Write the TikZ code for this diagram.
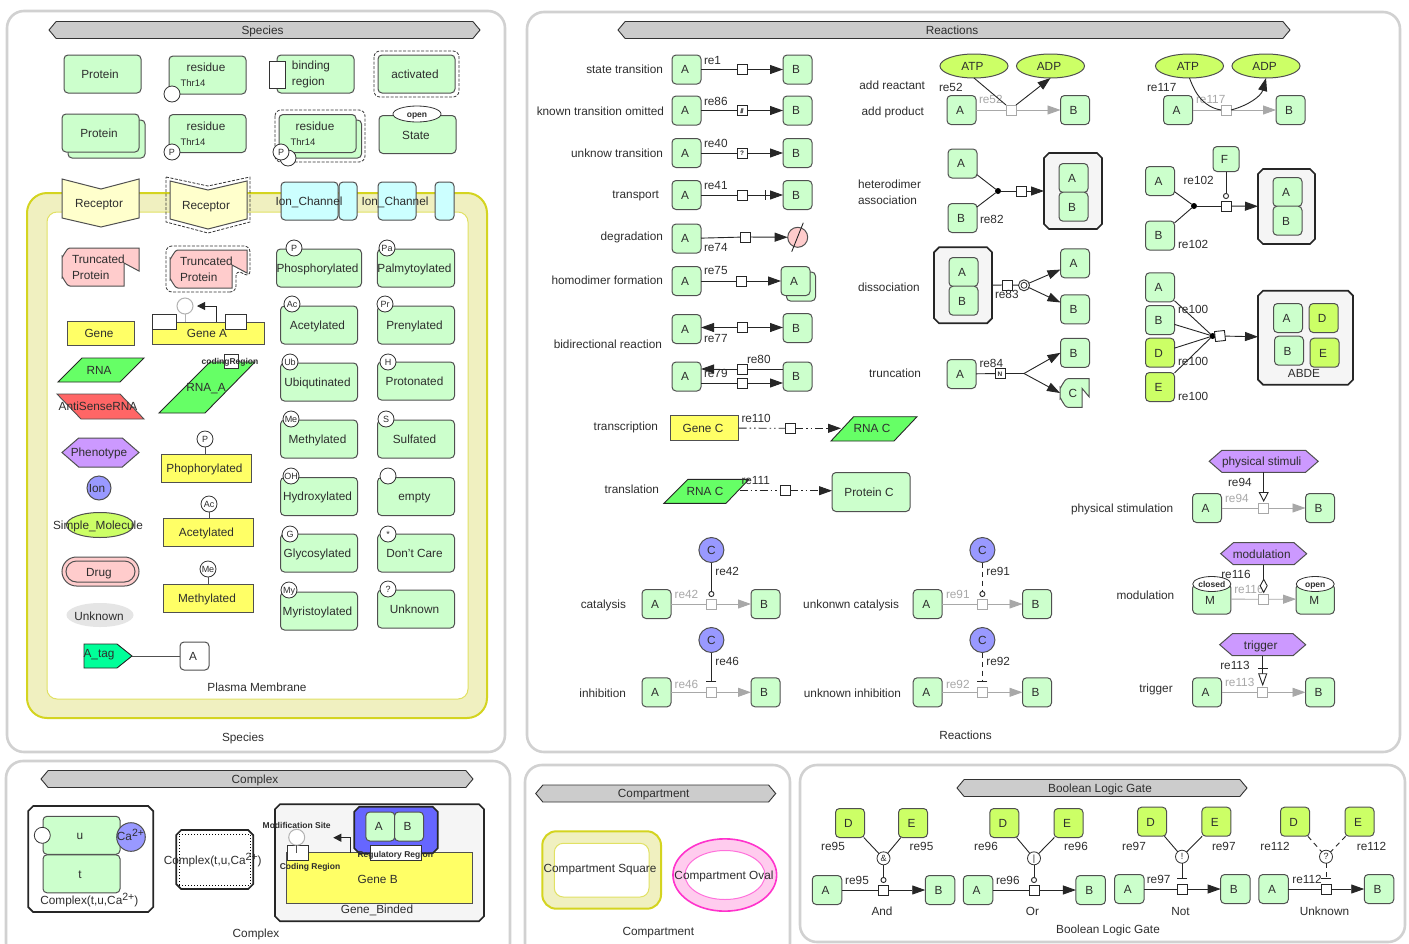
\documentclass[tikz,border=0pt]{standalone}
\usepackage{fontspec}
\setmainfont{Liberation Sans}
\usetikzlibrary{arrows.meta, positioning, shapes.geometric, shapes.symbols, shapes.misc}

\definecolor{prot}{HTML}{CCFFCC}
\definecolor{recp}{HTML}{FFFFCC}
\definecolor{chan}{HTML}{CCFFFF}
\definecolor{trnc}{HTML}{FFCCCC}
\definecolor{gene}{HTML}{FFFF66}
\definecolor{rnag}{HTML}{66FF66}
\definecolor{asrn}{HTML}{FF6666}
\definecolor{phen}{HTML}{CC99FF}
\definecolor{ionc}{HTML}{9999FF}
\definecolor{smol}{HTML}{CCFF66}
\definecolor{memb}{HTML}{F0F0C0}
\definecolor{memd}{HTML}{D4D420}
\definecolor{ovld}{HTML}{FF33CC}
\definecolor{ovlf}{HTML}{FFCCEE}
\definecolor{edge}{HTML}{505050}
\definecolor{faint}{HTML}{A8A8A8}
\definecolor{cxfill}{HTML}{F5F5F5}
\definecolor{cxblue}{HTML}{6666FF}
\definecolor{tagc}{HTML}{00FF99}

\newcommand{\cxnode}[6]{%
  \node[minimum width=#4pt, minimum height=#5pt] (#1) at (#2,#3) {};
  \draw[cxl, fill=#6] ([xshift=5pt]#1.north west) -- ([xshift=-5pt]#1.north east) -- ([yshift=-5pt]#1.north east)
    -- ([yshift=5pt]#1.south east) -- ([xshift=-5pt]#1.south east) -- ([xshift=5pt]#1.south west)
    -- ([yshift=5pt]#1.south west) -- ([yshift=-5pt]#1.north west) -- cycle;}
\newcommand{\casup}{\raisebox{4pt}{\fontsize{10.5}{12}\selectfont 2+}}

\begin{document}
\begin{tikzpicture}[x=1pt, y=-1pt,
        every node/.style={font=\fontsize{11.8}{16}\selectfont, text=black!82, inner sep=0pt, outer sep=0pt,
                  text height=8.6pt, text depth=0pt},
        ml/.style={align=left, text height=, text depth=},
        panel/.style={draw=black!18, line width=2.6pt, rounded corners=17pt, fill=white},
        banner/.style={signal, signal to=west and east, signal pointer angle=100, draw=black!80, line width=0.9pt,
                  fill=black!20, minimum height=17pt, execute at end node=\hspace*{4pt}},
        pn/.style={rectangle, draw=edge, line width=1pt, rounded corners=4pt, fill=prot, minimum width=77pt, minimum height=38pt,
                  execute at end node=\hspace*{3pt}},
        ab/.style={pn, minimum width=29pt, minimum height=29pt},
        dy/.style={ab, fill=smol},
        yl/.style={rectangle, draw=edge, line width=1pt, fill=gene, minimum width=90pt, minimum height=28pt,
                  execute at end node=\hspace*{3pt}},
        ch/.style={pn, fill=chan, minimum height=38pt},
        md/.style={circle, draw=black!80, line width=0.8pt, fill=white, minimum size=16pt, font=\fontsize{9}{10}\selectfont,
                  text height=6.5pt},
        hexa/.style={signal, signal to=west and east, signal pointer angle=82, draw=edge, line width=1pt, fill=phen, minimum height=22pt},
        cxl/.style={draw=black!85, line width=1.7pt},
        sq/.style={rectangle, draw=black!85, line width=0.9pt, fill=white, minimum size=10pt, text height=5pt,
                  font=\fontsize{6.5}{7}\selectfont\bfseries},
        gsq/.style={sq, draw=faint},
        dt/.style={circle, fill=black, minimum size=6pt, text height=0pt},
        gt/.style={circle, draw=black!80, line width=0.8pt, fill=white, minimum size=13pt, text height=6.5pt,
                  font=\fontsize{9}{10}\selectfont},
        ccl/.style={circle, draw=edge, line width=1pt, fill=ionc, minimum size=25pt},
        atp/.style={ellipse, draw=edge, line width=1pt, fill=smol, minimum width=68pt, minimum height=24pt,
                  execute at end node=\hspace*{3pt}},
        lb/.style={anchor=east},
        re/.style={anchor=west},
        gre/.style={anchor=west, text=faint},
        tiny/.style={font=\fontsize{8.5}{10}\selectfont\bfseries, text height=6pt},
        ln/.style={draw=black!85, line width=0.9pt},
        arr/.style={ln, -{Triangle[length=13pt,width=9pt]}},
        garr/.style={draw=faint, line width=0.9pt, -{Triangle[length=13pt,width=9pt]}},
        gln/.style={draw=faint, line width=0.9pt},
        cat/.style={ln, -{Circle[open,fill=white,length=6pt,width=6pt]}, shorten >=2pt},
        inh/.style={ln, -{Bar[width=10pt]}, shorten >=5pt},
        dsh/.style={dash pattern=on 5pt off 4pt},
        dashbox/.style={draw=black!80, line width=0.8pt, dash pattern=on 3pt off 1.5pt},
        dda/.style={dash pattern=on 8pt off 3pt on 1.5pt off 3pt on 1.5pt off 3pt}]
      \useasboundingbox (0,0) rectangle (1409,943);

      % panels
      \draw[panel] (7,11) rectangle (505,752);
      \draw[panel] (527,12) rectangle (1400,752);
      \draw[panel] (6,761) rectangle (510,960);
      \draw[panel] (525,765) rectangle (790,960);
      \draw[panel] (800,765) rectangle (1405,942);
      \node[banner, minimum width=431pt] (bspec) at (264.5,30) {Species};
      \node[banner, minimum width=672pt] (breac) at (954,30) {Reactions};
      \node[banner, minimum width=432pt] (bcplx) at (257,779) {Complex};
      \node[banner, minimum width=240pt] (bcomp) at (655.7,793.5) {Compartment};
      \node[banner, minimum width=290pt] (bbool) at (1102,788) {Boolean Logic Gate};

      % membrane
      \draw[draw=memd, line width=2pt, fill=memb, rounded corners=20pt] (27,193) rectangle (487,718);
      \draw[draw=memd!70, line width=1pt, fill=white, rounded corners=10pt] (47,212) rectangle (468,699);
      \node (tmemb) at (257,687) {Plasma Membrane};
      \node (tspec) at (243,737) {Species};

      % species, first rows
      \node[pn] (prot1) at (102.5,74) {};
      \node (tprot1) at (100,74) {Protein};
      \node[pn] (res1) at (207.5,75) {};
      \node (tres1) at (206,67) {residue};
      \node[font=\fontsize{9.5}{10}\selectfont, text height=7pt] (thr1) at (193,83) {Thr14};
      \node[md] (mres1) at (172,94) {};
      \node[pn] (bind) at (315.5,74) {};
      \node[draw=black!80, fill=white, minimum width=16pt, minimum height=27pt] (bbox) at (277,74.5) {};
      \node[ml] (tbind) at (311,74) {binding\\region};
      \draw[dashbox, rounded corners=6pt] (374,51) rectangle (459,97);
      \node[pn] (actv) at (416.5,74) {activated};
      \node[pn] (prot2b) at (106.5,139) {};
      \node[pn] (prot2) at (100.5,133) {Protein};
      \node[pn] (res2) at (207.5,133.5) {};
      \node (tres2) at (206,126) {residue};
      \node[font=\fontsize{9.5}{10}\selectfont, text height=7pt] (thr2) at (193,142) {Thr14};
      \node[md] (mres2) at (172,152) {P};
      \draw[dashbox, rounded corners=6pt] (275,110) rectangle (365,162);
      \node[pn] (res3b) at (323,139) {};
      \node[pn] (res3) at (317.5,133.5) {};
      \node (tres3) at (315,126) {residue};
      \node[font=\fontsize{9.5}{10}\selectfont, text height=7pt] (thr3) at (303,142) {Thr14};
      \node[md] (mres3b) at (288,158) {};
      \node[md] (mres3) at (281,152) {P};
      \node[pn] (state) at (417.5,134.5) {};
      \node (tstate) at (416,135) {State};
      \node[ellipse, draw=black!80, line width=0.8pt, fill=white, minimum width=48pt, minimum height=16pt, tiny] (open1) at (417,114) {open};

      % receptors, channels
      \draw[draw=edge, line width=1pt, fill=recp] (62,179) -- (101,189) -- (139,179) -- (139,218) -- (101,227) -- (62,218) -- cycle;
      \node (trec1) at (99,203) {Receptor};
      \draw[dashbox] (166,177) -- (208,186) -- (250,177) -- (250,222) -- (208,233) -- (166,222) -- cycle;
      \draw[draw=edge, line width=1pt, fill=recp] (170,181) -- (208,190) -- (247,181) -- (247,219) -- (208,229) -- (170,219) -- cycle;
      \node (trec2) at (206,205) {Receptor};
      \node[ch, minimum width=57pt] (ch1) at (309.5,201) {};
      \node[ch, minimum width=18pt] (ch1b) at (348,201) {};
      \node (tch1) at (309,201) {Ion\_Channel};
      \node[ch, minimum width=38pt] (ch2) at (397,201) {};
      \node[ch, minimum width=19pt] (ch2b) at (444.5,201) {};
      \node (tch2) at (395,201) {Ion\_Channel};

      % truncated
      \path[draw=edge, line width=1pt, fill=trnc] (124,286) -- (70,286) to[out=180,in=90] (62,278) -- (62,256) to[out=-90,in=180] (70,248) -- (139,248) -- (139,271) -- (124,263) -- cycle;
      \node[ml, anchor=west] (ttr1) at (72,267) {Truncated\\Protein};
      \draw[dashbox, rounded corners=6pt] (236,292) -- (166,292) -- (166,246) -- (250,246) -- (250,277) -- (236,270) -- cycle;
      \path[draw=edge, line width=1pt, fill=trnc] (232,288) -- (178,288) to[out=180,in=90] (170,280) -- (170,258) to[out=-90,in=180] (178,250) -- (247,250) -- (247,273) -- (232,265) -- cycle;
      \node[ml, anchor=west] (ttr2) at (180,269) {Truncated\\Protein};

      % genes
      \node[yl, minimum width=67pt, minimum height=24pt] (gene1) at (100.5,333) {Gene};
      \node[yl, minimum width=112pt, minimum height=22pt] (gene2) at (208,333) {};
      \node[draw=black!80, fill=white, minimum width=24pt, minimum height=15pt] (cod1) at (164,321.5) {};
      \node[draw=black!80, fill=white, minimum width=21pt, minimum height=15pt] (cod2) at (235.5,321.5) {};
      \node (tgene2) at (207,333) {Gene A};
      \node[circle, draw=black!30, line width=1pt, fill=white, minimum size=16pt] (msite) at (185,306) {};
      \coordinate (pstart) at (216,322);
      \coordinate (ptip) at (197,306);
      \draw[draw=black!30, line width=1pt] (msite) -- (msite |- gene2.north);
      \draw[ln, -{Triangle[length=8pt,width=8pt]}] (pstart) |- (ptip);

      % rna
      \path[draw=black!85, line width=0.9pt, fill=rnag] (58,382) -- (82,358) -- (144,358) -- (120,382) -- cycle;
      \node (trna) at (99,370) {RNA};
      \path[draw=edge, line width=0.9pt, fill=asrn] (57,394) -- (120,394) -- (144,419) -- (81,419) -- cycle;
      \node (tas) at (98,406) {AntiSenseRNA};
      \path[draw=black!85, line width=0.9pt, fill=rnag] (159,413) -- (210,362) -- (255,362) -- (205,413) -- cycle;
      \node (trnaa) at (206,387) {RNA\_A};
      \node[draw=black!80, fill=white, minimum size=14pt] (rbox) at (231,361) {};
      \node[tiny] (tcreg) at (230,361) {codingRegion};

      % column one
      \node[hexa, minimum width=77pt, minimum height=29pt] (phen1) at (100.5,452.5) {};
      \node (tphen) at (99,452) {Phenotype};
      \node[circle, draw=edge, line width=1pt, fill=ionc, minimum size=24pt] (ion1) at (99,488) {};
      \node (tion) at (97,488) {Ion};
      \node[ellipse, draw=edge, line width=1pt, fill=smol, minimum width=67pt, minimum height=25pt] (sm1) at (100,525) {};
      \node (tsm) at (98,525) {Simple\_Molecule};
      \node[rounded rectangle, draw=edge, line width=1pt, fill=trnc, minimum width=77pt, minimum height=29pt] (drug) at (100.5,571.5) {};
      \node[rounded rectangle, draw=edge, line width=1pt, fill=trnc, minimum width=69pt, minimum height=21pt] (drug2) at (100.5,571.5) {};
      \node (tdrug) at (99,572) {Drug};
      \node[ellipse, fill=black!10, minimum width=67pt, minimum height=24pt] (unk) at (100,615) {};
      \node (tunk) at (99,616) {Unknown};
      \path[draw=black!85, line width=0.9pt, fill=tagc] (84,644) -- (117,644) -- (132,656) -- (117,668) -- (84,668) -- cycle;
      \node (ttag) at (99,653) {A\_tag};
      \coordinate (tagr) at (132,656);
      \node[ab, fill=white, minimum height=28pt] (taga) at (194.5,656) {A};
      \draw[draw=edge, line width=1pt] (tagr) -- (taga);

      % column two
      \foreach \i/\t/\x/\y in {1/Phophorylated/206/468, 2/Acetylated/208/532, 3/Methylated/208.5/598}
        \node[yl] (yl\i) at (\x,\y) {\t};
      \node[md] (myl1) at (205,439) {P};
      \node[md] (myl2) at (209,504) {Ac};
      \node[md] (myl3) at (208,569) {Me};
      \foreach \i in {1,2,3}
        \draw[draw=edge, line width=1pt] (myl\i) -- (myl\i |- yl\i.north);

      % residues
      \foreach \i/\t/\m/\x/\y/\cx/\cy in {
          1/Phosphorylated/P/319/268/294/248, 2/Acetylated/Ac/319/325/292/304,
          3/Ubiqutinated/Ub/319/382/290/362, 4/Methylated/Me/319/439/291/419,
          5/Hydroxylated/OH/319/496.5/291/476, 6/Glycosylated/G/319/553/290/534,
          7/Myristoylated/My/319/611/289/590, 8/Palmytoylated/Pa/416/268/387/248,
          9/Prenylated/Pr/416/325/385/304, 10/Protonated/H/416/381/388/362,
          11/Sulfated/S/416/439/386/419, 12/empty//416/496.5/388/476,
          13/Don't Care/*/416/553/388/534, 14/Unknown/?/416/609/388/589} {
        \node[pn] (rs\i) at (\x,\y) {\t};
        \node[md] (mrs\i) at (\cx,\cy) {\m};
      }

      % plain transitions
      \foreach \i/\y/\m in {1/69.5/, 2/110.5/{/\!/\!/}, 3/153/?, 4/195/} {
        \node[ab] (a\i) at (686.5,\y) {A};
        \node[ab] (b\i) at (797.5,\y) {B};
        \node[sq] (s\i) at (742,\y) {\m};
        \draw[ln] (a\i) -- (s\i);
      }
      \foreach \i in {1,2,3}
        \draw[arr] (s\i) -- (b\i);
      \draw[ln, -{Bar[width=10pt,sep=4pt]Triangle[length=13pt,width=9pt]}] (s4) -- (b4);
      \node[lb] (l1) at (663,69) {state transition};
      \node[lb] (l2) at (664,111) {known transition omitted};
      \node[lb] (l3) at (663,153) {unknow transition};
      \node[lb] (l4) at (659,194) {transport};
      \node[re] (r1) at (704,60) {re1};
      \node[re] (r2) at (704,101) {re86};
      \node[re] (r3) at (704,143) {re40};
      \node[re] (r4) at (704,185) {re41};

      % degradation, homodimer
      \node[ab] (a5) at (686.5,238.5) {A};
      \node[sq] (s5) at (745,237) {};
      \node[circle, draw=edge, line width=1pt, fill=trnc, minimum size=20pt] (b5) at (797.7,237.3) {};
      \coordinate (sl1) at (803.3,222.7);
      \coordinate (sl2) at (791.7,251.7);
      \draw[ln] (sl1) -- (sl2);
      \draw[ln] (a5) -- (s5);
      \draw[arr] (s5) -- (b5);
      \node[lb] (l5) at (663,236) {degradation};
      \node[re] (r5) at (704,247) {re74};
      \node[ab] (a6) at (686.5,281) {A};
      \node[ab] (b6b) at (801,286.5) {};
      \node[ab] (b6) at (795.5,281) {A};
      \node[sq] (s6) at (741,281) {};
      \draw[ln] (a6) -- (s6);
      \draw[arr] (s6) -- (b6);
      \node[lb] (l6) at (663,280) {homodimer formation};
      \node[re] (r6) at (704,270) {re75};

      % bidirectional
      \node[lb] (l7) at (662,344) {bidirectional reaction};
      \node[ab] (a7) at (686.5,329) {A};
      \node[ab] (b7) at (797.5,328) {B};
      \node[sq] (s7) at (742,327.5) {};
      \draw[arr] (s7) -- (s7 -| a7.east);
      \draw[arr] (s7) -- (s7 -| b7.west);
      \node[re] (r7) at (704,338) {re77};
      \node[ab] (a8) at (686.5,376.5) {A};
      \node[ab] (b8) at (797.5,376.5) {B};
      \node[re] (r8) at (704,373) {re79};
      \node[sq] (s8) at (742,369) {};
      \node[sq] (s9) at (742,383) {};
      \draw[arr] (s8) -- (s8 -| a8.east);
      \draw[ln] (s8) -- (s8 -| b8.west);
      \draw[ln] (s9) -- (s9 -| a8.east);
      \draw[arr] (s9) -- (s9 -| b8.west);
      \node[re] (r9) at (747,359) {re80};

      % transcription, translation
      \node[lb] (l10) at (658,426) {transcription};
      \node[yl, minimum width=68pt, minimum height=25pt] (gc) at (704.5,428) {Gene C};
      \node[sq] (s10) at (790,428.3) {};
      \coordinate (rc1) at (841,428.3);
      \path[draw=black!85, line width=0.9pt, fill=rnag] (831,441) -- (853.6,416.7) -- (917,416.7) -- (894,441) -- cycle;
      \node (trc1) at (872,428) {RNA C};
      \draw[ln, dda] (gc) -- (s10);
      \draw[ln, dda, -{Triangle[length=13pt,width=9pt]}] (s10) -- (rc1);
      \node[re] (r10) at (741.5,418) {re110};
      \node[lb] (l11) at (659,489) {translation};
      \path[draw=black!85, line width=0.9pt, fill=rnag] (664,503.3) -- (688,479.3) -- (749,479.3) -- (726,503.3) -- cycle;
      \node (trc2) at (705,491) {RNA C};
      \coordinate (rc2) at (739.5,490.7);
      \node[sq] (s11) at (785,490.7) {};
      \node[pn, minimum width=78pt, minimum height=39pt] (pc) at (871,492) {};
      \node (tpc) at (869,492) {Protein C};
      \draw[ln, dda] (rc2) -- (s11);
      \draw[ln, dda, -{Triangle[length=13pt,width=9pt]}] (s11) -- (s11 -| pc.west);
      \node[re] (r11) at (741.5,480.3) {re111};

      % modifiers
      \foreach \i/\xa/\xs/\xb/\y/\yc/\g/\lx in {
          1/656.5/711.4/765.5/604/550/re42/674.6, 2/927.7/982.4/1037/604/550/re91/946,
          3/656.5/711.4/765.5/692.3/640/re46/674.6, 4/927.7/982.4/1037/692.3/640/re92/946} {
        \node[gre] (gr\i) at (\lx,\yc+44) {\g};
        \node[re] (mr\i) at (\xs+4,\yc+20.7) {\g};
        \node[ab] (ma\i) at (\xa,\y) {A};
        \node[ab] (mb\i) at (\xb,\y) {B};
        \node[gsq] (ms\i) at (\xs,\y) {};
        \node[ccl] (mc\i) at (\xs,\yc) {C};
        \draw[gln] (ma\i) -- (ms\i);
        \draw[garr] (ms\i) -- (mb\i);
      }
      \draw[cat] (mc1) -- (ms1);
      \draw[cat, dsh] (mc2) -- (ms2);
      \draw[inh] (mc3) -- (ms3);
      \draw[inh, dsh] (mc4) -- (ms4);
      \node[lb] (l12) at (626,604) {catalysis};
      \node[lb] (l13) at (899,604) {unkonwn catalysis};
      \node[lb] (l14) at (626,692.7) {inhibition};
      \node[lb] (l15) at (901,692.7) {unknown inhibition};
      \node (treac) at (965.5,734.7) {Reactions};

      % add reactant, add product
      \node[lb] (l16) at (925,85) {add reactant};
      \node[lb] (l17) at (924,110.7) {add product};
      \node[atp] (atp1) at (974,66) {ATP};
      \node[atp] (adp1) at (1050.5,66) {ADP};
      \node[re] (r16) at (939,86.7) {re52};
      \node[gre] (gr16) at (979,99.3) {re52};
      \node[ab] (a16) at (961.5,110) {A};
      \node[ab] (b16) at (1075,110) {B};
      \node[gsq] (s16) at (1011,110) {};
      \draw[gln] (a16) -- (s16);
      \draw[garr] (s16) -- (b16);
      \draw[ln] (atp1.south) -- (s16.north west);
      \draw[arr] (s16.north east) -- (adp1.south);
      \node[atp] (atp2) at (1189.5,66) {ATP};
      \node[atp] (adp2) at (1266,66) {ADP};
      \node[re] (r17) at (1147,86.7) {re117};
      \node[gre] (gr17) at (1196,99.3) {re117};
      \node[ab] (a17) at (1178,110) {A};
      \node[ab] (b17) at (1290.5,110) {B};
      \node[gsq] (s17) at (1226,110) {};
      \draw[gln] (a17) -- (s17);
      \draw[garr] (s17) -- (b17);
      \draw[ln] (atp2.south) to[out=-70,in=170] (s17.west);
      \draw[arr] (s17.east) to[out=15,in=-105] (adp2.south);

      % association
      \node[ml, anchor=west] (l18) at (858,192) {heterodimer\\association};
      \node[ab] (a18) at (962.5,163.5) {A};
      \node[ab] (b18) at (962.5,218) {B};
      \node[dt] (d18) at (998,191) {};
      \node[sq] (s18) at (1021,191) {};
      \cxnode{c18}{1073}{191}{58}{76}{cxfill}
      \node[ab] (c18a) at (1073.5,178) {A};
      \node[ab] (c18b) at (1073.5,206.7) {B};
      \draw[ln] (a18) -- (d18);
      \draw[ln] (b18) -- (d18);
      \draw[ln] (d18) -- (s18);
      \draw[arr] (s18) -- (c18);
      \node[re] (r18) at (980,219) {re82};
      \node[ab, minimum width=26pt, minimum height=25pt] (f19) at (1226,159) {F};
      \node[ab] (a19) at (1160,181) {A};
      \node[ab] (b19) at (1160,235.5) {B};
      \node[dt] (d19) at (1194,206) {};
      \node[sq] (s19) at (1226,206) {};
      \cxnode{c19}{1286.5}{206.5}{57}{75}{cxfill}
      \node[ab] (c19a) at (1287.5,192) {A};
      \node[ab] (c19b) at (1287.5,220.7) {B};
      \draw[ln] (a19) -- (d19);
      \draw[ln] (b19) -- (d19);
      \draw[ln] (d19) -- (s19);
      \draw[arr] (s19) -- (c19);
      \draw[cat] (f19) -- (s19);
      \node[re] (r19) at (1183.5,180) {re102};
      \node[re] (r19b) at (1178,244) {re102};

      % dissociation
      \node[anchor=west] (l20) at (858,286.7) {dissociation};
      \cxnode{c20}{963}{285.3}{58}{76}{cxfill}
      \node[ab] (c20a) at (963.5,272) {A};
      \node[ab] (c20b) at (963.5,300.7) {B};
      \node[sq] (s20) at (1007.5,285) {};
      \node[circle, draw=black!80, line width=0.9pt, fill=white, minimum size=11pt] (v20) at (1024,285.3) {};
      \node[circle, draw=black!80, line width=0.8pt, minimum size=6pt, text height=0pt] (v20b) at (1024,285.3) {};
      \node[ab] (a20) at (1075,263.3) {A};
      \node[ab] (b20) at (1075,309.3) {B};
      \draw[ln] (c20) -- (s20);
      \draw[ln] (s20) -- (v20);
      \draw[arr] (v20) -- (a20);
      \draw[arr] (v20) -- (b20);
      \node[re] (r20) at (995,294.3) {re83};

      % truncation
      \node[lb] (l21) at (921,372.7) {truncation};
      \node[ab] (a21) at (961.5,374) {A};
      \node[sq] (s21) at (1000,373.5) {N};
      \coordinate (j21) at (1024,373.5);
      \node[ab] (b21) at (1075,352.8) {B};
      \path[draw=edge, line width=1pt, fill=prot] (1089,378.7) -- (1089,396.7) -- (1082,388.3) -- (1082,407.3) -- (1068,407.3) to[out=180,in=90] (1060,399) -- (1060,387) to[out=-90,in=180] (1068,378.7) -- cycle;
      \node (tc21) at (1073,393.5) {C};
      \coordinate (c21) at (1060,393);
      \draw[ln] (a21) -- (s21);
      \draw[ln] (s21) -- (j21);
      \draw[arr] (j21) -- (b21.west);
      \draw[arr] (j21) -- (c21);
      \node[re] (r21) at (979.5,363.3) {re84};

      % four way association
      \node[ab] (a22) at (1160,287.3) {A};
      \node[ab] (b22) at (1160,320) {B};
      \node[dy] (d22) at (1160,352.7) {D};
      \node[dy] (e22) at (1160,387) {E};
      \node[dt] (j22) at (1212.6,336) {};
      \node[sq, rotate=6] (s22) at (1220,336) {};
      \cxnode{c22}{1305.5}{337.7}{95}{94}{cxfill}
      \node[ab] (c22a) at (1288,318) {A};
      \node[dy] (c22d) at (1323.7,318) {D};
      \node[ab] (c22b) at (1289,350.7) {B};
      \node[dy] (c22e) at (1324.5,352.7) {E};
      \node (tc22) at (1304,372.7) {ABDE};
      \foreach \n in {a22,b22,d22,e22}
        \draw[ln] (\n) -- (j22);
      \draw[arr] (s22) -- (c22);
      \node[re] (r22a) at (1178,309.3) {re100};
      \node[re] (r22b) at (1178,361.3) {re100};
      \node[re] (r22c) at (1178,395.7) {re100};

      % stimulation
      \node[lb] (l23) at (1173.3,508.3) {physical stimulation};
      \node[hexa, minimum width=109pt] (h23) at (1263.7,461.3) {};
      \node (th23) at (1261.7,461.3) {physical stimuli};
      \node[ab] (a23) at (1207,508) {A};
      \node[ab] (b23) at (1320,508) {B};
      \node[gsq] (s23) at (1263.7,508) {};
      \draw[gln] (a23) -- (s23);
      \draw[garr] (s23) -- (b23);
      \draw[ln, -{Triangle[open,fill=white,length=10pt,width=10pt]}, shorten >=1pt] (h23) -- (s23);
      \node[re] (r23) at (1228,481.7) {re94};
      \node[gre] (gr23) at (1225,498) {re94};

      % modulation
      \node[lb] (l24) at (1174.3,595) {modulation};
      \node[hexa, minimum width=86pt] (h24) at (1263.7,553.7) {};
      \node (th24) at (1261.7,553.7) {modulation};
      \node[pn, minimum width=38.3pt, minimum height=30pt] (a24) at (1211.8,599) {};
      \node[pn, minimum width=38.3pt, minimum height=30pt] (b24) at (1315.2,599) {};
      \node[ellipse, draw=black!80, line width=0.8pt, fill=white, minimum width=38pt, minimum height=15pt, tiny] (ea24) at (1211.8,584) {closed};
      \node[ellipse, draw=black!80, line width=0.8pt, fill=white, minimum width=38pt, minimum height=15pt, tiny] (eb24) at (1315.2,584) {open};
      \node (ma24) at (1210,600) {M};
      \node (mb24) at (1314.3,600) {M};
      \node[gsq] (s24) at (1263.7,599.3) {};
      \draw[gln] (a24) -- (s24);
      \draw[garr] (s24) -- (b24);
      \node[gre] (gr24) at (1234.3,589.3) {re116};
      \draw[ln, -{Diamond[open,fill=white,length=15pt,width=8pt]}, shorten >=1pt] (h24) -- (s24);
      \node[re] (r24) at (1221.3,573.7) {re116};

      % trigger
      \node[lb] (l25) at (1172.7,687.7) {trigger};
      \node[hexa, minimum width=86pt] (h25) at (1262.7,644.7) {};
      \node (th25) at (1260.7,644.7) {trigger};
      \node[ab] (a25) at (1207,692.3) {A};
      \node[ab] (b25) at (1320,692.3) {B};
      \node[gsq] (s25) at (1262.7,692.3) {};
      \draw[gln] (a25) -- (s25);
      \draw[garr] (s25) -- (b25);
      \draw[ln, -{Bar[width=10pt,sep=4pt]Triangle[open,fill=white,length=13pt,width=9pt]}, shorten >=1pt] (h25) -- (s25);
      \node[re] (r25) at (1220.3,665) {re113};
      \node[gre] (gr25) at (1225,682) {re113};

      % complex
      \cxnode{cp1}{90.7}{859}{125}{106}{white}
      \node[pn] (cpu) at (81.5,835.3) {u};
      \node[pn] (cpt) at (81.5,873.8) {t};
      \node[md] (cpm) at (42.3,835.3) {};
      \node[circle, draw=edge, line width=1pt, fill=ionc, minimum size=28.6pt] (cpca) at (131,837) {};
      \node (tcpca) at (130.5,836) {Ca\casup};
      \node (tcp1) at (89.3,900) {Complex(t,u,Ca\casup)};
      \cxnode{cp2}{214.7}{859.5}{77}{59}{white}
      \node[draw=black, dotted, line width=1pt, minimum width=71pt, minimum height=51pt] (cp2b) at (214.5,859.5) {};
      \node (tcp2) at (212.7,860) {Complex(t,u,Ca\casup)};
      \cxnode{cp3}{379.5}{862.7}{209}{117}{cxfill}
      \node[yl, minimum width=186pt, minimum height=50.6pt] (gb) at (379.7,878) {};
      \node (tgb) at (377.7,878.7) {Gene B};
      \node (tcp3) at (377,909.3) {Gene\_Binded};
      \cxnode{cpb}{396}{830}{83.4}{46.6}{cxblue}
      \node[ab] (cpa1) at (380.3,826.5) {A};
      \node[ab] (cpb1) at (409,826.5) {B};
      \node[draw=black!80, fill=white, minimum width=21.6pt, minimum height=15.3pt] (cod3) at (297.5,852.7) {};
      \node[circle, draw=black!30, line width=1pt, fill=white, minimum size=16pt] (site3) at (296.7,837.3) {};
      \draw[draw=edge, line width=1pt] (site3) -- (site3 |- gb.north);
      \node[draw=black!80, fill=white, minimum width=51.7pt, minimum height=15.3pt] (reg3) at (395.8,852.7) {};
      \coordinate (pa3) at (350.7,852.7);
      \coordinate (pb3) at (333.3,837.7);
      \draw[ln, -{Triangle[length=8pt,width=8pt]}] (pa3) |- (pb3);
      \node[tiny] (tcod3) at (310,866.7) {Coding Region};
      \node[tiny] (tsite3) at (296.7,825) {Modification Site};
      \node[tiny] (treg3) at (395.3,854) {Regulatory Region};
      \node (tcplx) at (256,932.7) {Complex};

      % compartment
      \draw[draw=memd, line width=2pt, fill=memb, rounded corners=14pt] (542.3,831.3) rectangle (661,908.7);
      \draw[draw=memd!70, line width=1pt, fill=white, rounded corners=9pt] (554.3,843.3) rectangle (649,897);
      \node (tcs) at (600,868.3) {Compartment Square};
      \node[ellipse, draw=ovld, line width=1.6pt, fill=ovlf, minimum width=103.7pt, minimum height=72.3pt] (ov1) at (724.8,875) {};
      \node[ellipse, draw=ovld!70, line width=1pt, fill=white, minimum width=80pt, minimum height=49pt] (ov2) at (725,875) {};
      \node (tco) at (724,875) {Compartment Oval};
      \node (tcomp) at (658.3,931.3) {Compartment};

      % boolean gates
      \foreach \i/\xa/\xb/\xd/\xe/\xg/\ya/\yd/\yg/\t/\g/\xl/\xr/\xm in {
          1/827/940/850/913/883.5/890/823/858.3/And/\&/833/921.5/857,
          2/978/1090.7/1004.3/1068.5/1034/890/823/858.3/Or/|/986/1076/1007.8,
          3/1129.3/1235.4/1152/1216.4/1182/889/821.7/856.7/Not/!/1134/1223.8/1158.6,
          4/1273.6/1379/1295/1359.5/1326/889/821.7/856.7/Unknown/?/1275/1371.5/1307} {
        \node[ab, minimum width=29.5pt] (ga\i) at (\xa,\ya) {A};
        \node[ab, minimum width=29.5pt] (gb\i) at (\xb,\ya) {B};
        \node[dy] (gd\i) at (\xd,\yd) {D};
        \node[dy] (ge\i) at (\xe,\yd) {E};
        \node[gt] (gg\i) at (\xg,\yg) {\g};
        \node[sq] (gs\i) at (\xg,\ya) {};
        \node (gl\i) at (\xg-1.5,910.7) {\t};
        \draw[ln] (ga\i) -- (gs\i);
        \draw[arr] (gs\i) -- (gb\i);
      }
      \foreach \i in {1,2,3} {
        \draw[ln] (gd\i) -- (gg\i);
        \draw[ln] (ge\i) -- (gg\i);
      }
      \draw[ln, dsh] (gd4) -- (gg4);
      \draw[ln, dsh] (ge4) -- (gg4);
      \draw[cat] (gg1) -- (gs1);
      \draw[cat] (gg2) -- (gs2);
      \draw[inh] (gg3) -- (gs3);
      \draw[inh, dsh] (gg4) -- (gs4);
      \foreach \i/\x/\y/\t in {a/833/846/re95, b/921.5/846/re95, c/857/880/re95,
          d/986/846/re96, e/1076/846/re96, f/1007.8/880/re96,
          g/1134/846/re97, h/1223.8/846/re97, i/1158.6/879/re97,
          j/1275/846/re112, k/1371.5/846/re112, l/1307/879/re112}
        \node (gr\i) at (\x,\y) {\t};
      \node (tbool) at (1108,929) {Boolean Logic Gate};
    \end{tikzpicture}
\end{document}
